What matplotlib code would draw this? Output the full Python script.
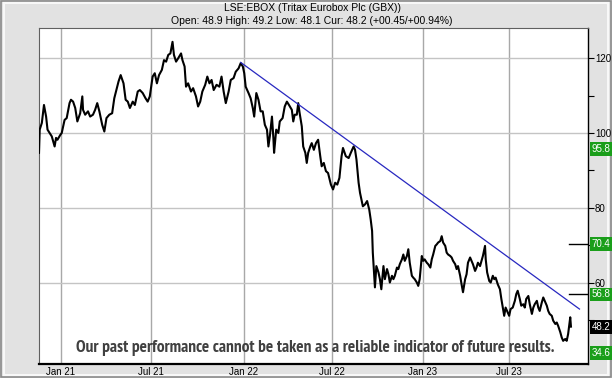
import numpy as np
import matplotlib.pyplot as plt
from matplotlib import font_manager
from matplotlib.patches import Rectangle
from matplotlib.transforms import blended_transform_factory

# trading session number (0 = first session shown) and price in pence
sessions = [0, 1, 4, 7, 10, 12, 15, 18, 22, 24, 26, 30, 32, 36, 39, 43, 45, 48, 51, 54,
            58, 61, 62, 65, 69, 72, 76, 79, 82, 85, 89, 92, 95, 99, 103, 106, 109, 112, 115, 119,
            122, 125, 128, 132, 135, 139, 142, 146, 150, 153, 156, 160, 163, 166, 169, 173, 176, 179, 182, 185,
            188, 190, 193, 196, 200, 202, 205, 207, 210, 214, 217, 221, 224, 227, 230, 234, 237, 240, 243, 246,
            250, 254, 257, 260, 263, 267, 270, 274, 277, 281, 284, 287, 289, 291, 295, 298, 301, 303, 306, 309,
            312, 315, 318, 321, 323, 325, 328, 330, 331, 334, 337, 339, 343, 346, 349, 352, 356, 358, 360, 363,
            365, 367, 370, 372, 375, 377, 379, 382, 384, 387, 390, 393, 396, 398, 401, 404, 407, 411, 414, 417,
            420, 423, 426, 428, 432, 436, 439, 443, 445, 447, 450, 452, 456, 459, 462, 465, 467, 469, 470, 472,
            473, 475, 478, 480, 482, 485, 487, 490, 492, 494, 497, 499, 501, 504, 506, 508, 511, 513, 515, 518,
            520, 522, 525, 527, 529, 532, 534, 536, 539, 541, 543, 546, 548, 551, 553, 555, 558, 560, 562, 565,
            567, 569, 572, 574, 576, 579, 581, 583, 586, 588, 590, 593, 595, 597, 600, 602, 604, 607, 609, 611,
            614, 616, 618, 621, 623, 625, 628, 629, 631, 634, 636, 639, 641, 643, 646, 649, 651, 653, 655, 657,
            660, 662, 664, 667, 670, 672, 674, 677, 679, 682, 684, 686, 689, 691, 694, 696, 698, 701, 703, 705,
            708, 710, 712, 715, 717, 719, 722, 724, 727, 729, 731, 734, 736, 738, 741, 743, 745, 747, 748, 749]
price = [94.7, 100.9, 102.7, 107.5, 104.4, 100.9, 100.0, 99.1, 96.4, 98.7, 98.2, 99.5, 100.0, 103.5, 104.0, 108.0, 108.9, 108.4, 106.7, 103.1,
         105.3, 109.8, 106.2, 104.9, 105.8, 104.4, 104.9, 106.2, 108.0, 105.8, 102.2, 100.4, 104.0, 104.9, 105.3, 109.3, 111.5, 113.8, 115.5, 113.3,
         108.9, 108.4, 106.7, 108.4, 107.5, 111.1, 111.5, 110.7, 109.3, 108.4, 109.8, 115.1, 116.0, 113.3, 115.5, 116.9, 119.5, 119.1, 120.9, 121.3,
         124.4, 120.9, 119.1, 120.0, 121.3, 119.5, 117.8, 112.4, 113.3, 111.1, 112.0, 109.8, 107.1, 108.4, 111.1, 112.9, 115.1, 113.3, 114.2, 111.5,
         112.9, 112.4, 115.1, 111.1, 108.0, 111.1, 114.2, 114.7, 116.4, 117.3, 118.7, 117.8, 116.0, 112.4, 110.7, 109.3, 106.7, 104.4, 110.7, 108.9,
         105.8, 105.8, 102.2, 100.9, 96.4, 99.1, 104.4, 98.7, 94.7, 100.9, 100.0, 103.1, 104.0, 107.1, 108.4, 107.5, 106.2, 103.1, 104.9, 104.9,
         108.0, 105.3, 101.8, 96.4, 94.7, 92.0, 94.7, 96.4, 97.3, 95.5, 97.3, 98.2, 93.8, 91.1, 92.0, 89.8, 89.3, 86.2, 84.9, 86.7,
         86.2, 88.0, 93.8, 96.0, 93.8, 93.3, 94.7, 96.4, 95.5, 92.9, 86.7, 84.0, 80.4, 80.9, 81.8, 79.5, 76.9, 73.8, 68.0, 61.8,
         58.7, 64.4, 62.7, 60.9, 58.2, 64.4, 60.9, 63.6, 62.2, 60.0, 61.8, 60.9, 61.8, 64.0, 63.6, 64.9, 66.2, 67.5, 65.8, 67.1,
         68.9, 65.3, 61.8, 61.3, 60.9, 60.0, 59.1, 60.9, 67.1, 65.8, 66.2, 65.3, 64.9, 64.0, 66.2, 67.5, 69.8, 70.2, 70.7, 71.1,
         72.4, 70.7, 69.8, 68.0, 67.5, 67.1, 66.7, 65.8, 64.9, 63.6, 64.4, 61.8, 59.5, 57.4, 60.9, 62.2, 65.3, 66.7, 65.8, 64.9,
         63.1, 64.0, 65.3, 64.4, 65.8, 67.1, 69.8, 66.2, 62.7, 60.4, 60.0, 61.8, 60.9, 61.3, 59.5, 58.2, 55.6, 53.3, 51.1, 53.3,
         52.0, 51.1, 52.9, 53.3, 55.1, 56.9, 57.8, 55.6, 53.8, 54.2, 53.3, 55.6, 56.4, 54.2, 51.6, 53.3, 54.2, 55.1, 53.3, 52.4,
         54.7, 56.0, 55.1, 53.8, 52.4, 51.6, 51.1, 49.8, 48.9, 49.3, 48.4, 46.7, 45.3, 44.4, 44.9, 44.4, 46.2, 49.3, 50.7, 48.2]

tick_sessions = [31, 158, 288, 413, 540, 662]
tick_labels = ["Jan 21", "Jul 21", "Jan 22", "Jul 22", "Jan 23", "Jul 23"]

trend_sessions = [284, 761]
trend_values = [118.9, 52.9]

green_levels = [95.8, 70.4, 56.8, 34.6]
marker_levels = [70.4, 56.8]
current = 48.2

ymin, ymax = 38.2, 128.1

# look for a narrow bold face for the disclaimer
narrow = None
for f in font_manager.fontManager.ttflist:
    if f.stretch in ('condensed', 'semi-condensed', 'extra-condensed') or 'Narrow' in f.name or 'Condensed' in f.name:
        if f.weight in ('bold', 700, 'semibold', 600) or 'Bold' in f.fname:
            narrow = f.name
            if 'Narrow' in f.name or 'Liberation' in f.name:
                break

fig = plt.figure(figsize=(6.12, 3.78), dpi=100)
fig.patch.set_facecolor('#e2e2e2')
# bevelled outer frame, kept underneath the axes
fig.patches.append(Rectangle((0.002, 0.003), 0.996, 0.994, transform=fig.transFigure,
                             fill=False, edgecolor='#8a8a8a', linewidth=1.2, zorder=-2))
fig.patches.append(Rectangle((0.006, 0.009), 0.988, 0.982, transform=fig.transFigure,
                             fill=False, edgecolor='#f8f8f8', linewidth=1.5, zorder=-2))

ax = fig.add_axes([39/612, 14/378, 549/612, 336/378])
ax.set_facecolor('white')
ax.set_xlim(0, 773)
ax.set_ylim(ymin, ymax)

for s in tick_sessions:
    ax.axvline(s, color='#a8a8a8', linewidth=1.0, zorder=1)
for v in [60, 80, 100, 120]:
    ax.axhline(v, color='#c4c4c4', linewidth=1.0, zorder=1)

ax.plot(sessions, price, color='black', linewidth=1.5, zorder=3)
ax.plot(trend_sessions, trend_values, color='#2828c0', linewidth=0.9, zorder=4)

for v in marker_levels:
    ax.axhline(v, xmin=0.965, xmax=1.0, color='black', linewidth=1.0, zorder=4)

# disclaimer, sized so it spans the same width as in the original
if narrow:
    note_kw = dict(family=narrow)
else:
    note_kw = dict(family='DejaVu Sans', fontstretch='condensed')
note = ax.text(0.504, 0.048, "Our past performance cannot be taken as a reliable indicator of future results.",
               transform=ax.transAxes, ha='center', va='center', fontsize=15, fontweight='bold',
               color='#404040', zorder=5, **note_kw)
renderer = fig.canvas.get_renderer()
fs = 15.0
while note.get_window_extent(renderer).width > 481 and fs > 6:
    fs -= 0.1
    note.set_fontsize(fs)

ax.set_xticks(tick_sessions)
ax.set_xticklabels(tick_labels, fontsize=7, family='Liberation Sans')
ax.tick_params(axis='x', length=0, pad=2.5)

ax.yaxis.tick_right()
ax.set_yticks([60, 80, 100, 120])
ax.set_yticks([50, 70, 90, 110], minor=True)
ax.set_yticklabels(['60', '80', '100', '120'], fontsize=7, family='Liberation Sans')
ax.tick_params(axis='y', which='both', direction='out', length=4, width=0.8, pad=1)

for side in ['top', 'left']:
    ax.spines[side].set_color('#606060')
    ax.spines[side].set_linewidth(0.8)
ax.spines['right'].set_linewidth(1.0)
ax.spines['bottom'].set_linewidth(1.6)

tr = blended_transform_factory(ax.transAxes, ax.transData)
for v in green_levels:
    yv = max(v, ymin + 3.0)
    ax.text(1.0068, yv, f"{v:.1f}", transform=tr, ha='left', va='center', fontsize=7,
            color='white', family='Liberation Sans', clip_on=False, zorder=6,
            bbox=dict(boxstyle='square,pad=0.2', facecolor='#1a9e1a', edgecolor='none'))
ax.text(1.0068, current, f"{current:.1f}", transform=tr, ha='left', va='center', fontsize=7,
        color='white', family='Liberation Sans', clip_on=False, zorder=6,
        bbox=dict(boxstyle='square,pad=0.2', facecolor='black', edgecolor='none'))

fig.text(0.51, 1 - 8/378, "LSE:EBOX (Tritax Eurobox Plc (GBX))", ha='center', va='center',
         fontsize=7.5, family='Liberation Sans')
fig.text(0.51, 1 - 21/378, "Open: 48.9 High: 49.2 Low: 48.1 Cur: 48.2 (+00.45/+00.94%)",
         ha='center', va='center', fontsize=7.5, family='Liberation Sans')

fig.savefig('out.png', dpi=100, facecolor=fig.get_facecolor())
